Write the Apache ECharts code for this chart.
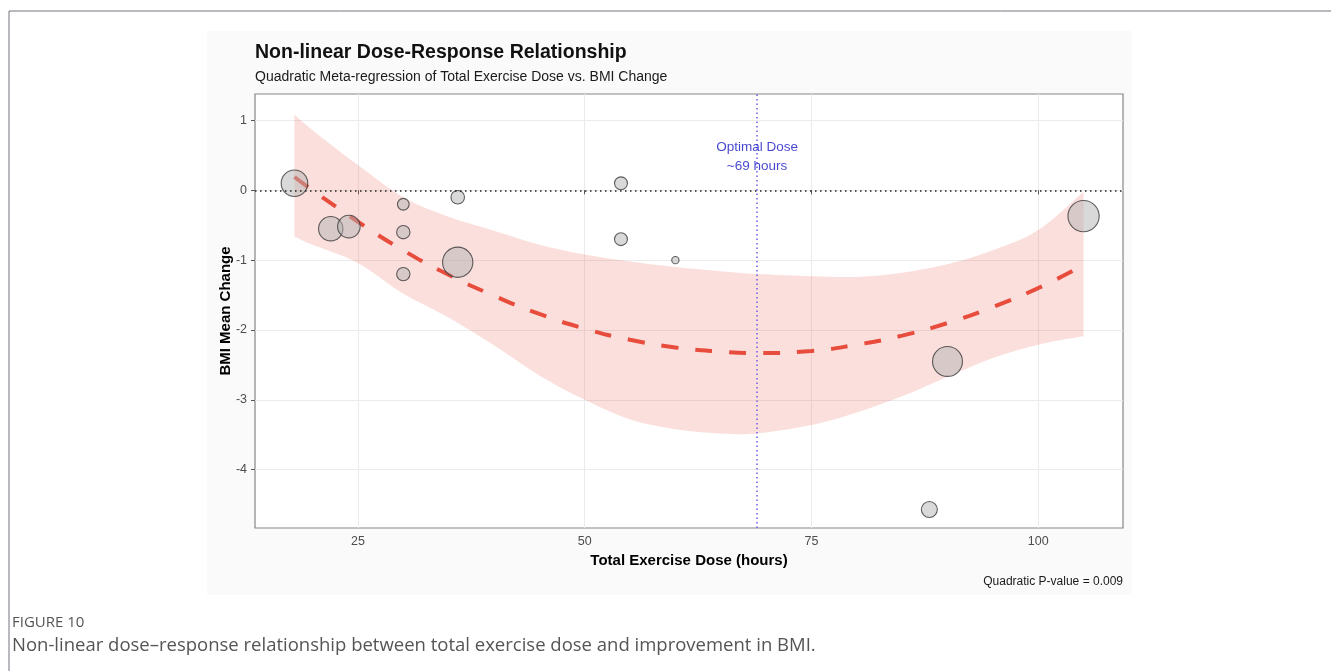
<!DOCTYPE html>
<html>
<head>
<meta charset="utf-8">
<script src="https://cdn.jsdelivr.net/npm/echarts@6/dist/echarts.min.js"></script>
<style>
  html, body { margin: 0; padding: 0; background: #ffffff; }
  #chart { width: 1331px; height: 671px; }
</style>
</head>
<body>
<div id="chart"></div>
<script>
// Study-level estimates: total exercise dose (hours), BMI mean change, study weight (%)
const doseHours   = [18, 22, 24, 30, 30, 30, 36, 36, 54, 54, 60, 88, 90, 105];
const bmiChange   = [0.10, -0.55, -0.52, -0.20, -0.60, -1.20, -0.10, -1.03, 0.10, -0.70, -1.00, -4.57, -2.45, -0.37];
const studyWeight = [11.9, 10.0, 8.6, 2.3, 3.0, 3.0, 3.1, 15.5, 2.8, 2.8, 0.9, 4.3, 15.1, 16.5];

// Quadratic meta-regression fit and its confidence band
const fitDose   = [18, 20, 25, 30, 35, 40, 45, 50, 55, 60, 65, 69, 75, 80, 85, 90, 95, 100, 105];
const fitBmi    = [0.19, 0.00, -0.45, -0.86, -1.21, -1.51, -1.77, -1.98, -2.14, -2.25, -2.31, -2.33, -2.30, -2.21, -2.08, -1.90, -1.67, -1.40, -1.07];
const bandUpper = [1.08, 0.86, 0.36, -0.10, -0.38, -0.58, -0.78, -0.92, -1.02, -1.10, -1.16, -1.20, -1.23, -1.24, -1.18, -1.06, -0.86, -0.57, -0.02];
const bandLower = [-0.66, -0.78, -1.04, -1.48, -1.82, -2.22, -2.65, -3.00, -3.28, -3.42, -3.48, -3.48, -3.36, -3.18, -2.95, -2.67, -2.40, -2.21, -2.09];

const optimalDose = 69;
const pValue = '0.009';

// Axis ticks
const xTicks = [25, 50, 75, 100];
const yTicks = [-4, -3, -2, -1, 0, 1];

const FONT = '"Liberation Sans", Arial, sans-serif';
const chart = echarts.init(document.getElementById('chart'), null, { renderer: 'canvas' });

// Smooth SVG path segments (Catmull-Rom as cubic Bezier) through pixel points
function smoothSegments(pts) {
  let d = '';
  for (let i = 0; i < pts.length - 1; i++) {
    const p0 = pts[Math.max(i - 1, 0)], p1 = pts[i], p2 = pts[i + 1], p3 = pts[Math.min(i + 2, pts.length - 1)];
    const c1x = p1[0] + (p2[0] - p0[0]) / 6, c1y = p1[1] + (p2[1] - p0[1]) / 6;
    const c2x = p2[0] - (p3[0] - p1[0]) / 6, c2y = p2[1] - (p3[1] - p1[1]) / 6;
    d += ' C' + c1x + ' ' + c1y + ' ' + c2x + ' ' + c2y + ' ' + p2[0] + ' ' + p2[1];
  }
  return d;
}

const option = {
  animation: false,
  backgroundColor: '#ffffff',
  grid: {
    left: 255, right: 208, top: 94, bottom: 143,
    show: true, backgroundColor: '#ffffff', borderColor: '#858585', borderWidth: 1.2
  },
  xAxis: {
    type: 'value',
    min: 13.65, max: 109.35,
    name: 'Total Exercise Dose (hours)',
    nameLocation: 'middle', nameGap: 25,
    nameTextStyle: { fontFamily: FONT, fontSize: 15, fontWeight: 'bold', color: '#000' },
    axisLine: { show: false },
    axisTick: { show: true, customValues: xTicks, length: 4, lineStyle: { color: '#555' } },
    axisLabel: { customValues: xTicks, margin: 7, fontFamily: FONT, fontSize: 12.5, color: '#4d4d4d' },
    splitLine: { show: true, lineStyle: { color: '#ebebeb', width: 1 } }
  },
  yAxis: {
    type: 'value',
    min: -4.834, max: 1.378,
    name: 'BMI Mean Change',
    nameLocation: 'middle', nameGap: 22, nameRotate: 90, nameMoveOverlap: false,
    nameTextStyle: { fontFamily: FONT, fontSize: 15, fontWeight: 'bold', color: '#000' },
    axisLine: { show: false },
    axisTick: { show: true, customValues: yTicks, length: 4, lineStyle: { color: '#555' } },
    axisLabel: { customValues: yTicks, margin: 8, fontFamily: FONT, fontSize: 12.5, color: '#4d4d4d' },
    splitLine: { show: true, lineStyle: { color: '#ebebeb', width: 1 } }
  },
  series: [
    {
      // confidence band of the quadratic fit
      type: 'custom',
      z: 1,
      silent: true,
      data: [[fitDose[0], bandLower[0]]],
      renderItem: function (params, api) {
        const up = fitDose.map((d, i) => api.coord([d, bandUpper[i]]));
        const lo = fitDose.map((d, i) => api.coord([d, bandLower[i]])).reverse();
        const path = 'M' + up[0][0] + ' ' + up[0][1] + smoothSegments(up) +
          ' L' + lo[0][0] + ' ' + lo[0][1] + smoothSegments(lo) + ' Z';
        return {
          type: 'path',
          shape: { pathData: path },
          style: { fill: 'rgba(231, 76, 60, 0.18)', stroke: null }
        };
      }
    },
    {
      // reference line at zero change
      type: 'line',
      z: 2,
      data: [],
      markLine: {
        silent: true,
        symbol: ['none', 'none'],
        label: { show: false },
        lineStyle: { color: '#222222', width: 1.5, type: [1.5, 3.5] },
        data: [{ yAxis: 0 }]
      }
    },
    {
      // reference line at the optimal dose
      type: 'line',
      z: 2,
      data: [],
      markLine: {
        silent: true,
        symbol: ['none', 'none'],
        label: { show: false },
        lineStyle: { color: '#6f5ce6', width: 1.5, type: [1.5, 3] },
        data: [{ xAxis: optimalDose }]
      }
    },
    {
      // fitted quadratic curve
      type: 'line',
      z: 3,
      smooth: true,
      showSymbol: false,
      silent: true,
      data: fitDose.map((d, i) => [d, fitBmi[i]]),
      lineStyle: { color: '#e74c3c', width: 4, type: [17, 17] }
    },
    {
      // individual studies, bubble area proportional to weight
      type: 'scatter',
      z: 4,
      data: doseHours.map((d, i) => [d, bmiChange[i], studyWeight[i]]),
      symbolSize: v => Math.sqrt(v[2]) * 7.7,
      itemStyle: { color: 'rgba(178, 178, 178, 0.62)', borderColor: '#3a3a3a', borderWidth: 1.1 }
    },
    {
      // optimal dose annotation
      type: 'scatter',
      z: 5,
      symbolSize: 0,
      silent: true,
      data: [[optimalDose, 0.485]],
      label: {
        show: true,
        position: 'inside',
        formatter: 'Optimal Dose\n~' + optimalDose + ' hours',
        fontFamily: FONT, fontSize: 13.5, lineHeight: 19, color: '#1616c4',
        textBorderWidth: 0, align: 'center'
      }
    }
  ],
  graphic: [
    // figure frame
    { type: 'line', z: -2, shape: { x1: 9, y1: 11, x2: 1331, y2: 11 }, style: { stroke: '#72727e', lineWidth: 1 } },
    { type: 'line', z: -2, shape: { x1: 9, y1: 11, x2: 9, y2: 671 }, style: { stroke: '#72727e', lineWidth: 1 } },
    // plot background
    { type: 'rect', z: -1, shape: { x: 207, y: 31, width: 925, height: 564 }, style: { fill: '#fafafa' } },
    {
      type: 'text', z: 10, left: 255, top: 43,
      style: { text: 'Non-linear Dose-Response Relationship', font: 'bold 19.5px ' + FONT, fill: '#111' }
    },
    {
      type: 'text', z: 10, left: 255, top: 70,
      style: { text: 'Quadratic Meta-regression of Total Exercise Dose vs. BMI Change', font: '14px ' + FONT, fill: '#1a1a1a' }
    },
    {
      type: 'text', z: 10, right: 208, top: 576,
      style: { text: 'Quadratic P-value = ' + pValue, font: '12px ' + FONT, fill: '#1a1a1a' }
    },
    {
      type: 'text', z: 10, left: 12, top: 615,
      style: { text: 'FIGURE 10', font: '15px "Open Sans", sans-serif', fill: '#555' }
    },
    {
      type: 'text', z: 10, left: 12, top: 636,
      style: { text: 'Non-linear dose\u2013response relationship between total exercise dose and improvement in BMI.', font: '18.5px "Open Sans", sans-serif', fill: '#555' }
    }
  ]
};

chart.setOption(option);
</script>
</body>
</html>
